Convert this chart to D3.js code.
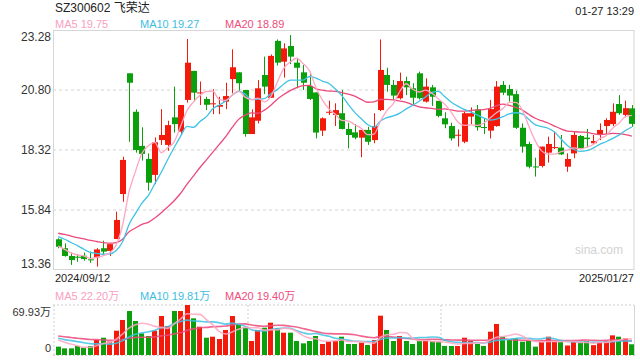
<!DOCTYPE html>
<html><head><meta charset="utf-8">
<script src="https://cdn.jsdelivr.net/npm/d3@7/dist/d3.min.js"></script>
<style>
html,body{margin:0;padding:0;background:#fff;}
svg{display:block;font-family:Arial,"Liberation Sans","Noto Sans CJK SC",sans-serif;}
</style></head><body>
<svg id="c" width="640" height="360"></svg>
<script>
const title = "SZ300602 飞荣达";
const timeStamp = "01-27 13:29";
const xLabels = ["2024/09/12", "2025/01/27"];
const priceTicks = [23.28, 20.80, 18.32, 15.84, 13.36];
const volMaxLabel = 69.93;

// closes before the visible window (used only to warm up the moving averages)
const priorClose = [14.9,15.1,15.2,14.9,15.0,15.1,15.0,14.9,15.0,15.1,15.0,15.1,15.2,15.3,15.05,14.6,14.5,14.3,14.0];
const priorVolume = [32,28,35,27,30,26,33,29,31,28,27,24,26,25,26,25,22,24,22.3];

const open = [14.63,14.26,13.94,13.91,13.95,13.80,13.88,14.26,14.15,14.64,16.50,21.49,19.90,18.49,17.95,17.29,18.73,18.53,19.67,19.08,
20.39,21.59,20.68,20.43,20.23,20.11,20.32,21.25,21.53,20.80,18.98,19.53,21.42,20.48,22.83,21.97,22.62,21.93,21.53,20.97,
20.70,19.12,19.88,19.77,19.84,19.19,19.05,18.83,19.15,18.73,19.97,21.42,21.01,20.46,21.17,20.87,21.49,20.32,20.91,20.35,
19.63,19.31,18.93,18.66,19.70,20.00,19.27,19.12,19.31,21.01,20.84,20.63,19.24,18.57,17.64,17.66,18.21,18.41,18.42,17.63,
18.18,18.90,18.83,18.60,18.94,19.31,19.39,20.22,19.77,20.04];
const high = [14.67,14.46,14.08,14.02,14.08,14.12,14.26,14.57,14.44,15.77,18.04,21.49,20.00,19.26,18.18,18.84,20.01,19.53,20.94,20.18,
22.91,21.59,21.15,20.52,20.83,20.52,21.10,22.48,21.53,20.80,20.00,21.21,22.18,22.27,22.89,22.73,23.07,22.11,21.83,21.49,
20.70,19.67,20.36,20.25,20.80,19.45,19.39,19.15,19.28,19.84,22.89,21.72,21.21,21.52,21.35,21.08,21.56,21.28,21.01,20.35,
19.88,19.45,19.17,19.90,20.08,20.18,19.63,20.39,21.17,21.17,21.01,20.77,19.42,18.66,18.00,18.46,18.87,19.08,18.94,18.18,
19.08,18.94,19.19,18.94,19.42,19.63,20.25,20.59,20.36,20.18];
const low = [14.26,13.91,13.57,13.70,13.75,13.66,13.50,14.02,13.94,14.64,16.18,18.66,18.21,17.88,16.64,16.91,18.53,18.29,19.04,18.98,
20.28,20.32,20.18,19.97,19.80,19.80,20.01,20.66,20.73,18.87,18.98,19.42,20.63,20.48,21.81,21.31,21.87,20.87,20.80,20.39,
18.80,18.90,19.77,19.31,19.17,18.39,18.76,18.02,18.53,18.60,19.93,20.73,20.39,20.41,20.59,20.18,20.41,20.28,20.14,19.67,
19.22,18.71,18.46,18.60,19.39,19.12,18.98,18.80,19.28,20.59,20.32,19.19,18.21,17.56,17.22,17.60,17.80,18.36,18.11,17.42,
17.98,18.35,18.43,18.53,18.73,18.98,19.31,19.77,19.67,19.28];
const close = [14.32,13.94,13.77,13.87,13.81,13.78,14.21,14.12,14.43,15.43,17.91,21.10,18.32,18.16,16.97,18.64,18.94,19.35,19.39,20.18,
21.93,20.69,20.70,20.19,20.25,20.18,20.55,21.74,21.08,18.98,19.67,20.87,20.94,22.21,21.93,22.52,22.18,21.72,21.10,20.43,
19.04,19.63,19.90,19.97,19.19,18.94,18.83,19.15,18.66,19.31,21.63,21.01,20.57,21.17,20.91,20.48,20.46,20.94,20.52,19.73,
19.38,18.80,18.95,19.84,19.84,19.26,19.25,20.01,20.94,20.69,20.57,19.24,18.46,17.63,17.63,18.46,18.57,18.44,18.14,17.95,
18.94,18.39,18.77,18.69,19.15,19.56,19.90,19.84,20.05,19.40];
// volume in 万 shares
const volume = [11.7,9.3,9.3,12.6,10.3,12.6,21.0,24.2,18.6,34.0,49.0,61.5,47.6,30.3,26.6,34.0,54.5,40.6,61.5,61.5,
69.93,51.3,39.6,24.2,25.6,22.4,35.0,54.5,42.9,38.2,19.6,35.0,38.2,45.2,37.3,31.2,31.2,19.6,16.3,19.6,
26.6,15.4,18.6,19.6,25.6,15.4,15.4,17.2,14.0,21.0,55.0,35.0,19.6,26.6,19.6,15.4,19.6,20.0,19.6,18.6,
12.6,12.6,12.6,24.2,19.6,15.4,12.6,32.6,43.4,25.6,21.9,23.3,18.6,19.6,11.7,18.6,25.6,18.6,18.6,13.3,
18.2,18.3,19.6,13.8,17.2,19.6,27.5,25.6,23.3,15.0];

const maPeriods = [5, 10, 20];
const maColors = ["#ffa6c2", "#40c3e4", "#ec4a7c"];
const maTextColors = ["#f9a0bf", "#3dbde0", "#ee4c7c"];
const upColor = "#f31a0c", downColor = "#0a9f0b";

function movingAvg(prior, vals, n) {
  const all = prior.concat(vals), off = prior.length;
  return vals.map((v, i) => d3.mean(all.slice(off + i - n + 1, off + i + 1)));
}

const svg = d3.select("#c");
const N = close.length;
const left = 55, right = 635;
const x = d3.scaleBand().domain(d3.range(N)).range([left, right]).paddingInner(0.22).paddingOuter(0.1);
const cx = i => x(i) + x.bandwidth() / 2;
const y = d3.scaleLinear().domain([priceTicks[4], priceTicks[0]]).range([270, 30]);
const yv = d3.scaleLinear().domain([0, volMaxLabel]).range([355, 305]);

// title
svg.append("text").attr("x", 55).attr("y", 12).attr("font-size", 12).attr("fill", "#222").text(title);
svg.append("text").attr("x", 634).attr("y", 15).attr("text-anchor", "end").attr("font-size", 11).attr("fill", "#222").text(timeStamp);

// price MA legend
const priceMA = maPeriods.map(p => movingAvg(priorClose, close, p));
maPeriods.forEach((p, k) => {
  svg.append("text").attr("x", 55 + k * 85).attr("y", 28).attr("font-size", 11).attr("fill", maTextColors[k])
    .text("MA" + p + " " + priceMA[k][N - 1].toFixed(2));
});

// main grid
const grid = svg.append("g");
priceTicks.slice(1, 4).forEach(t => {
  grid.append("line").attr("x1", 53).attr("x2", 634).attr("y1", y(t)).attr("y2", y(t))
    .attr("stroke", "#e2e2e2").attr("stroke-width", 1.5).attr("stroke-dasharray", "3,3");
});
svg.append("rect").attr("x", 53.5).attr("y", 30.5).attr("width", 580.5).attr("height", 239)
  .attr("fill", "none").attr("stroke", "#d6d6d6");

// y axis
const yAxis = d3.axisLeft(y).tickValues(priceTicks).tickSize(0).tickPadding(0).tickFormat(d3.format(".2f"));
const ya = svg.append("g").attr("transform", "translate(51,0)").call(yAxis);
ya.select(".domain").remove();
ya.selectAll("text").attr("font-size", 12).attr("fill", "#333").attr("font-family", "Arial,'Liberation Sans',sans-serif")
  .attr("dy", (d, i) => i === 0 ? "0.9em" : (i === 4 ? "-0.25em" : "0.32em"));

// watermark
svg.append("text").attr("x", 623).attr("y", 254).attr("text-anchor", "end").attr("font-size", 12).attr("fill", "#d2d2d2").text("sina.com");

// candles
const cg = svg.append("g");
d3.range(N).forEach(i => {
  const up = close[i] >= open[i];
  const col = up ? upColor : downColor;
  cg.append("line").attr("x1", Math.round(cx(i)) + 0.5).attr("x2", Math.round(cx(i)) + 0.5)
    .attr("y1", y(high[i])).attr("y2", y(low[i])).attr("stroke", col).attr("stroke-width", 1);
  const top = y(Math.max(open[i], close[i])), bot = y(Math.min(open[i], close[i]));
  cg.append("rect").attr("x", Math.round(cx(i) - 2.5)).attr("width", 6).attr("y", top).attr("height", Math.max(1, bot - top)).attr("fill", col);
});

// price MA lines
const line = d3.line().x((d, i) => cx(i)).y(d => y(d)).curve(d3.curveMonotoneX);
[2, 1, 0].forEach(k => {
  svg.append("path").attr("d", line(priceMA[k])).attr("fill", "none").attr("stroke", maColors[k]).attr("stroke-width", 1.3);
});

// x labels
svg.append("text").attr("x", 55).attr("y", 282).attr("font-size", 11).attr("fill", "#222").text(xLabels[0]);
svg.append("text").attr("x", 634).attr("y", 282).attr("text-anchor", "end").attr("font-size", 11).attr("fill", "#222").text(xLabels[1]);

// volume legend
const volMA = maPeriods.map(p => movingAvg(priorVolume, volume, p));
maPeriods.forEach((p, k) => {
  svg.append("text").attr("x", 55 + k * 85).attr("y", 300).attr("font-size", 11).attr("fill", maTextColors[k])
    .text("MA" + p + " " + volMA[k][N - 1].toFixed(2) + "万");
});

// volume frame
const vg = svg.append("g");
[[53, 305, 634, 305], [53, 355.5, 634, 355.5], [54, 305, 54, 355], [248, 305, 248, 355], [441, 305, 441, 355]].forEach(l => {
  vg.append("line").attr("x1", l[0]).attr("y1", l[1]).attr("x2", l[2]).attr("y2", l[3])
    .attr("stroke", "#cfcfcf").attr("stroke-width", 1).attr("stroke-dasharray", "2,2");
});
vg.append("line").attr("x1", 634.5).attr("x2", 634.5).attr("y1", 305).attr("y2", 356).attr("stroke", "#d6d6d6");

svg.append("text").attr("x", 51).attr("y", 316).attr("text-anchor", "end").attr("font-size", 11).attr("fill", "#333").text(volMaxLabel.toFixed(2) + "万");
svg.append("text").attr("x", 51).attr("y", 352).attr("text-anchor", "end").attr("font-size", 11).attr("fill", "#333").text("0");

// volume bars
d3.range(N).forEach(i => {
  const col = close[i] >= open[i] ? upColor : downColor;
  vg.append("rect").attr("x", Math.round(cx(i) - 2.5)).attr("width", 5).attr("y", yv(volume[i]))
    .attr("height", yv(0) - yv(volume[i])).attr("fill", col);
});
const vline = d3.line().x((d, i) => cx(i)).y(d => yv(d)).curve(d3.curveMonotoneX);
[2, 1, 0].forEach(k => {
  svg.append("path").attr("d", vline(volMA[k])).attr("fill", "none").attr("stroke", maColors[k]).attr("stroke-width", 1.6).attr("opacity", 0.85);
});
</script>
</body></html>
